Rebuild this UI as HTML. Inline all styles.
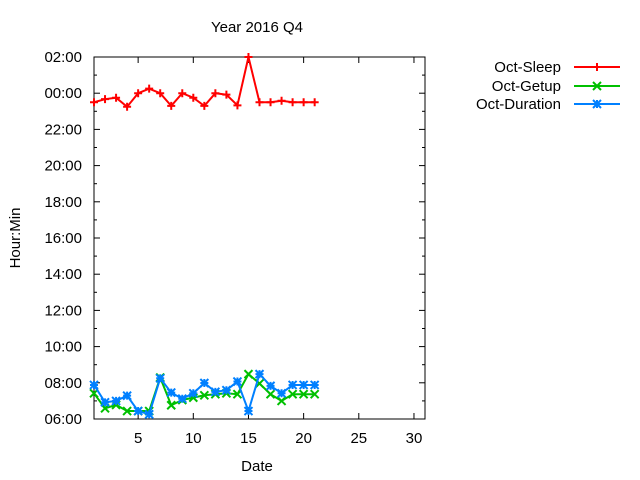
<!DOCTYPE html>
<html><head><meta charset="utf-8"><style>
html,body{margin:0;padding:0;background:#fff;}
svg{display:block;font-family:"Liberation Sans",sans-serif;}
</style></head><body>
<svg id="chart" width="640" height="480" viewBox="0 0 640 480" xmlns="http://www.w3.org/2000/svg"></svg>
<script>
const days = [1,2,3,4,5,6,7,8,9,10,11,12,13,14,15,16,17,18,19,20,21];
const sleepHours = [23.5,23.67,23.75,23.25,24,24.25,24,23.3,24,23.75,23.3,24,23.92,23.33,26,23.5,23.5,23.58,23.5,23.5,23.5];
const getupHours = [7.42,6.59,6.78,6.44,6.44,6.44,8.29,6.76,7.05,7.18,7.31,7.37,7.42,7.37,8.48,7.96,7.37,7.0,7.37,7.37,7.37];
const durationHours = [7.88,6.92,7.0,7.29,6.44,6.26,8.25,7.46,7.12,7.42,7.99,7.5,7.59,8.07,6.44,8.48,7.83,7.42,7.88,7.88,7.88];
const xTicks = [5,10,15,20,25,30];
const yTicks = [6,8,10,12,14,16,18,20,22,24,26];
const yTickLabels = ["06:00","08:00","10:00","12:00","14:00","16:00","18:00","20:00","22:00","00:00","02:00"];

const svg = document.getElementById('chart');
const NS = 'http://www.w3.org/2000/svg';
const L=94, R=425, T=57, B=419;
const xMin=1, xMax=31, yMin=6, yMax=26;
const xs = v => L + (v-xMin)/(xMax-xMin)*(R-L);
const ys = v => B - (v-yMin)/(yMax-yMin)*(B-T);
function mk(tag, attrs, parent){const e=document.createElementNS(NS,tag);for(const k in attrs)e.setAttribute(k,attrs[k]);(parent||svg).appendChild(e);return e;}

const axes = mk('g',{});


const frame = mk('rect',{x:L,y:T,width:R-L,height:B-T,fill:'none',stroke:'#000','stroke-width':1},axes);



xTicks.forEach(t=>{
  const x=xs(t);
  mk('line',{x1:x,y1:B,x2:x,y2:B-6,stroke:'#000'},axes);
  mk('line',{x1:x,y1:T,x2:x,y2:T+6,stroke:'#000'},axes);
  const tx=mk('text',{x:x,y:B+24,'text-anchor':'middle','font-size':15,fill:'#000'},axes);
  tx.textContent=t;
  
  
});
for(let h=yMin; h<=yMax; h++){
  const y=ys(h);
  const len = (h%2===0)?6:3;
  mk('line',{x1:L,y1:y,x2:L+len,y2:y,stroke:'#000'},axes);
  mk('line',{x1:R,y1:y,x2:R-len,y2:y,stroke:'#000'},axes);
}
yTicks.forEach((t,i)=>{
  const tx=mk('text',{x:82,y:ys(t)+5,'text-anchor':'end','font-size':15,fill:'#000'},axes);
  tx.textContent=yTickLabels[i];
  
  
});

const title=mk('text',{x:257,y:32,'text-anchor':'middle','font-size':15,fill:'#000'});
title.textContent='Year 2016 Q4';


const xt=mk('text',{x:257,y:471,'text-anchor':'middle','font-size':15,fill:'#000'});
xt.textContent='Date';


const yt=mk('text',{x:20,y:238,'text-anchor':'middle','font-size':15,fill:'#000',transform:'rotate(-90 20 238)'});
yt.textContent='Hour:Min';



function marker(type,x,y,color,g){
  const s=4;
  if(type==='plus'){
    mk('path',{d:`M${x-s} ${y}H${x+s}M${x} ${y-s}V${y+s}`,stroke:color,'stroke-width':2},g);
  } else if(type==='x'){
    mk('path',{d:`M${x-s} ${y-s}L${x+s} ${y+s}M${x-s} ${y+s}L${x+s} ${y-s}`,stroke:color,'stroke-width':2},g);
  } else {
    mk('path',{d:`M${x-s} ${y}H${x+s}M${x} ${y-s}V${y+s}M${x-s} ${y-s}L${x+s} ${y+s}M${x-s} ${y+s}L${x+s} ${y-s}`,stroke:color,'stroke-width':2},g);
  }
}
function series(name,vals,color,type,legendY,label){
  const g=mk('g',{});
  
  
  const pts=days.map((d,i)=>xs(d)+','+ys(vals[i])).join(' ');
  mk('polyline',{points:pts,fill:'none',stroke:color,'stroke-width':2},g);
  days.forEach((d,i)=>marker(type,xs(d),ys(vals[i]),color,g));
  const lg=mk('g',{});
  
  
  const t=mk('text',{x:561,y:legendY+5,'text-anchor':'end','font-size':15,fill:'#000'},lg);
  t.textContent=label;
  mk('line',{x1:574,y1:legendY,x2:620,y2:legendY,stroke:color,'stroke-width':2},lg);
  marker(type,597,legendY,color,lg);
}
series('sleep-series',sleepHours,'#ff0000','plus',67,'Oct-Sleep');
series('getup-series',getupHours,'#00c000','x',86,'Oct-Getup');
series('duration-series',durationHours,'#0080ff','star',104,'Oct-Duration');
</script>
</body></html>
